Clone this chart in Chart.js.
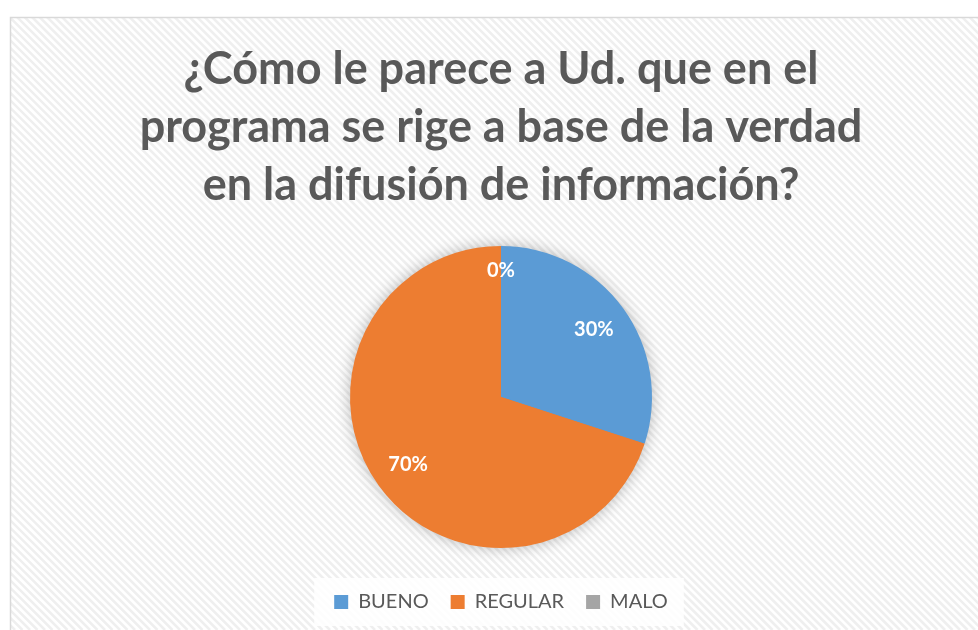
<!DOCTYPE html>
<html>
<head>
<meta charset="utf-8">
<script src="https://cdn.jsdelivr.net/npm/chart.js@4/dist/chart.umd.min.js"></script>
<style>
  html, body { margin: 0; padding: 0; background: #fff; }
  #wrap { width: 978px; height: 630px; position: relative; }
</style>
</head>
<body>
<div id="wrap"><canvas id="pieChart"></canvas></div>
<script>
// Data
const categories = ['BUENO', 'REGULAR', 'MALO'];
const percents = [30, 70, 0];
const sliceColors = ['#5B9BD5', '#ED7D31', '#A5A5A5'];
const titleLines = [
    '¿Cómo le parece a Ud. que en el',
    'programa se rige a base de la verdad',
    'en la difusión de información?'
];

// striped background + frame
const backdrop = {
    id: 'backdrop',
    beforeDraw(chart) {
        const c = chart.ctx;
        const w = chart.width, h = chart.height;
        c.save();
        c.fillStyle = '#ffffff';
        c.fillRect(0, 0, w, h);
        c.beginPath();
        c.rect(11, 18, w - 11, h - 18);
        c.clip();
        c.strokeStyle = '#efefef';
        c.lineWidth = 2.6;
        for (let x = -h; x < w + h; x += 7.5) {
            c.beginPath();
            c.moveTo(x, 0);
            c.lineTo(x + h, h);
            c.stroke();
        }
        c.restore();
        c.save();
        c.strokeStyle = '#d9d9d9';
        c.lineWidth = 1.5;
        c.strokeRect(10.5, 17.5, w + 10, h + 10);
        c.restore();

        // white box behind the legend
        const lg = chart.legend;
        if (lg && lg.legendHitBoxes && lg.legendHitBoxes.length) {
            const boxes = lg.legendHitBoxes;
            const left = Math.min(...boxes.map(b => b.left));
            const right = Math.max(...boxes.map(b => b.left + b.width));
            const top = boxes[0].top;
            const bh = boxes[0].height;
            c.save();
            c.fillStyle = 'rgba(255,255,255,0.85)';
            c.fillRect(left - 20, top - 14, right - left + 36, bh + 28);
            c.restore();
        }
    }
};

// soft shadow under the pie
const pieShadow = {
    id: 'pieShadow',
    beforeDatasetsDraw(chart) {
        const arc = chart.getDatasetMeta(0).data[0];
        if (!arc) return;
        const c = chart.ctx;
        c.save();
        c.shadowColor = 'rgba(0,0,0,0.3)';
        c.shadowBlur = 16;
        c.fillStyle = '#ED7D31';
        c.beginPath();
        c.arc(arc.x, arc.y, arc.outerRadius - 1, 0, Math.PI * 2);
        c.fill();
        c.restore();
    }
};

// percentage labels inside the slices
const sliceLabels = {
    id: 'sliceLabels',
    afterDatasetsDraw(chart) {
        const c = chart.ctx;
        const meta = chart.getDatasetMeta(0);
        c.save();
        c.fillStyle = '#ffffff';
        c.font = 'bold 20px Lato, "Open Sans", sans-serif';
        c.textAlign = 'center';
        c.textBaseline = 'middle';
        meta.data.forEach((arc, i) => {
            const mid = (arc.startAngle + arc.endAngle) / 2;
            const f = percents[i] === 0 ? 0.84 : 0.76;
            const r = arc.outerRadius * f;
            c.fillText(percents[i] + '%', arc.x + Math.cos(mid) * r, arc.y + Math.sin(mid) * r);
        });
        c.restore();
    }
};

const ctx = document.getElementById('pieChart').getContext('2d');
const chart = new Chart(ctx, {
    type: 'pie',
    data: {
        labels: categories,
        datasets: [{
            data: percents,
            backgroundColor: sliceColors,
            borderWidth: 0
        }]
    },
    options: {
        responsive: true,
        maintainAspectRatio: false,
        animation: false,
        radius: 151,
        layout: {
            padding: { top: 0, left: 24, right: 0, bottom: 8 }
        },
        plugins: {
            title: {
                display: true,
                text: titleLines,
                color: '#595959',
                font: { family: 'Lato, "Open Sans", sans-serif', size: 45, weight: 'bold', lineHeight: 1.29 },
                padding: { top: 40, bottom: 10 }
            },
            legend: {
                display: true,
                position: 'bottom',
                labels: {
                    color: '#595959',
                    font: { family: 'Lato, "Open Sans", sans-serif', size: 20 },
                    boxWidth: 14,
                    boxHeight: 14,
                    padding: 22
                }
            },
            tooltip: { enabled: false }
        }
    },
    plugins: [backdrop, pieShadow, sliceLabels]
});
</script>
</body>
</html>
